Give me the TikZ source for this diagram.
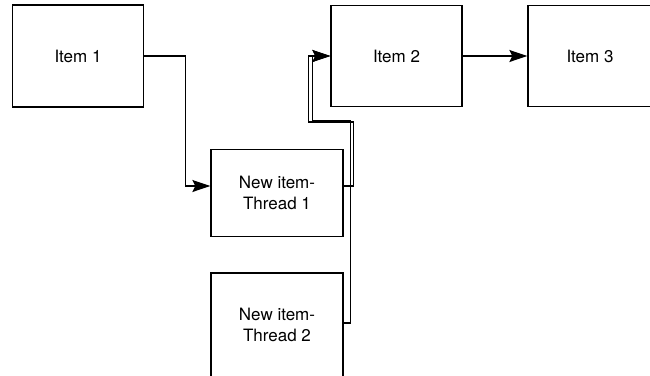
\documentclass[tikz,border=0pt]{standalone}
\usepackage{fontspec}
\setmainfont{TeX Gyre Heros}
\usetikzlibrary{arrows.meta,positioning}

\begin{document}
\begin{tikzpicture}[x=1pt,y=-1pt,line width=1.3pt,
  >={Stealth[length=18pt,width=12pt,inset=3pt]},
  font=\fontsize{17}{21}\selectfont]
\tikzset{itembox/.style={draw,align=center,inner sep=0pt},
         link/.style={->,line join=miter}}
\useasboundingbox (0,0) rectangle (650,375);
% list items on top, new items inserted by the two threads below
\node [itembox,minimum width=131pt,minimum height=102pt] (Item1) at (78,56) {Item 1};
\node [itembox,minimum width=131pt,minimum height=101pt] (Item2) at (396.5,56) {Item 2};
\node [itembox,minimum width=124pt,minimum height=101pt] (Item3) at (590,56) {Item 3};
\node [itembox,minimum width=132pt,minimum height=87pt] (Thread1) at (277,193) {New item-\\Thread 1};
\node [itembox,minimum width=132pt,minimum height=104pt] (Thread2) at (277,325) {New item-\\Thread 2};

\draw [link] (Item1.east) -- ++(41,0) |- ([yshift=7pt]Thread1.west);
\draw [link] (Item2) -- (Item3);
% both threads point into Item 2
\draw [link] ([yshift=7pt]Thread1.east) -- ++(10,0) -- ++(0,-64) -- ++(-45,0) |- (Item2.west);
\draw [link] ([yshift=2pt]Thread2.east) -- ++(7,0) -- ++(0,-202) -- ++(-38,0) |- (Item2.west);
\end{tikzpicture}
\end{document}
